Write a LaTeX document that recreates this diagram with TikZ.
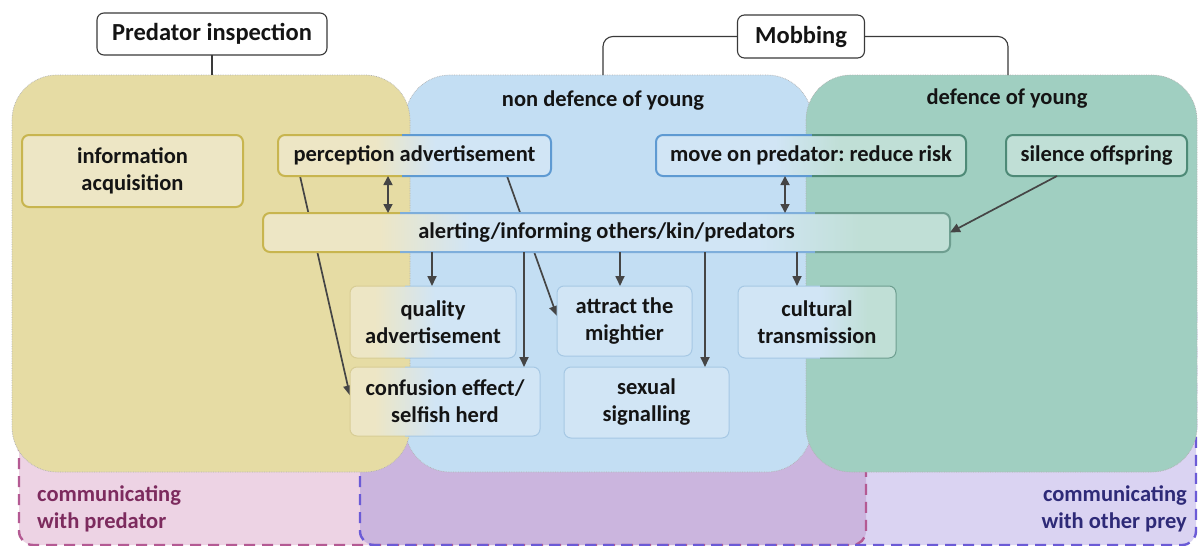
\documentclass[tikz,border=0pt]{standalone}
\usepackage{fontspec}
\setmainfont{Carlito}
\usetikzlibrary{arrows.meta}
\frenchspacing
\definecolor{yreg}{HTML}{E6DCA4}
\definecolor{breg}{HTML}{C3DEF3}
\definecolor{greg}{HTML}{A0CFC1}
\definecolor{preg}{HTML}{EDD3E4}
\definecolor{vreg}{HTML}{DAD3F2}
\definecolor{oreg}{HTML}{CBB5DE}
\definecolor{pdash}{HTML}{B45A93}
\definecolor{vdash}{HTML}{6B5BD6}
\definecolor{cream}{HTML}{EDE6C5}
\definecolor{gold}{HTML}{C8B54F}
\definecolor{lgold}{HTML}{D8CD95}
\definecolor{lblue}{HTML}{D1E5F5}
\definecolor{bblue}{HTML}{5E9AD2}
\definecolor{llblue}{HTML}{A6C8E4}
\definecolor{lgreen}{HTML}{C0DFD6}
\definecolor{dgreen}{HTML}{4E8A77}
\definecolor{mgreen}{HTML}{6E9E90}
\definecolor{txt}{HTML}{141414}
\definecolor{arrc}{HTML}{454545}
\definecolor{titleb}{HTML}{3A3A3A}
\definecolor{predtxt}{HTML}{7D2B5E}
\definecolor{preytxt}{HTML}{2E2A78}
\pgfdeclarehorizontalshading{shPerc}{100bp}{color(0bp)=(cream); color(42.8bp)=(cream); color(53.8bp)=(lblue); color(100bp)=(lblue)}
\pgfdeclarehorizontalshading{shQual}{100bp}{color(0bp)=(cream); color(32.5bp)=(cream); color(50.6bp)=(lblue); color(100bp)=(lblue)}
\pgfdeclarehorizontalshading{shConf}{100bp}{color(0bp)=(cream); color(31.6bp)=(cream); color(47.4bp)=(lblue); color(100bp)=(lblue)}
\pgfdeclarehorizontalshading{shMove}{100bp}{color(0bp)=(lblue); color(44.2bp)=(lblue); color(54.7bp)=(lgreen); color(100bp)=(lgreen)}
\pgfdeclarehorizontalshading{shCult}{100bp}{color(0bp)=(lblue); color(51bp)=(lblue); color(66bp)=(lgreen); color(100bp)=(lgreen)}
\pgfdeclarehorizontalshading{shAlert}{100bp}{color(0bp)=(cream); color(33.5bp)=(cream); color(40bp)=(lblue); color(61bp)=(lblue); color(68.5bp)=(lgreen); color(100bp)=(lgreen)}
\newcommand\bxfont{\fontsize{22.5}{27}\selectfont\bfseries}
\newcommand\ttlfont{\fontsize{24.5}{29}\selectfont\bfseries}
\newcommand\partb[5]{\begin{scope}\clip (#2,0) rectangle (#3,546);\draw[draw=#4, line width=#5, rounded corners=7pt] (#1.north west) rectangle (#1.south east);\end{scope}}
\pgfdeclarelayer{regions}
\pgfdeclarelayer{under}
\pgfsetlayers{regions,under,main}
\begin{document}
\begin{tikzpicture}[x=1pt,y=-1pt,
  region/.style={draw=gray!60, densely dotted, line width=0.7pt, rounded corners=45pt},
  dashreg/.style={dash pattern=on 11pt off 7pt, line width=2.4pt, rounded corners=14pt},
  nbox/.style={rectangle, rounded corners=7pt, align=center, font=\bxfont, text=txt, outer sep=0pt, inner sep=0pt},
  titlebox/.style={nbox, fill=white, draw=titleb, line width=1.1pt, font=\ttlfont},
  ybox/.style={nbox, fill=cream, draw=gold, line width=2pt},
  gbox/.style={nbox, fill=lgreen, draw=dgreen, line width=2pt},
  lbbox/.style={nbox, fill=lblue, draw=llblue, line width=1pt},
  shbox/.style={nbox, shade, shading=#1},
  arr/.style={draw=arrc, line width=1.7pt, -{Triangle[length=10pt,width=9pt]}},
  dbl/.style={draw=arrc, line width=1.7pt, {Triangle[length=9pt,width=9pt]}-{Triangle[length=9pt,width=9pt]}},
  bracket/.style={draw=titleb, line width=1.1pt, rounded corners=10pt}]
\useasboundingbox (0,0) rectangle (1200,546);
\begin{pgfonlayer}{regions}
\fill[white] (0,0) rectangle (1200,546);
\fill[preg, rounded corners=14pt] (19,300) rectangle (866,545);
\fill[vreg, rounded corners=14pt] (360,300) rectangle (1196,545);
\fill[oreg, rounded corners=14pt] (360,300) rectangle (866,545);
\draw[dashreg, draw=pdash] (19,300) rectangle (866,545);
\draw[dashreg, draw=vdash] (360,300) rectangle (1196,545);
\path[region, fill=breg] (405,75) rectangle (812,472);
\path[region, fill=yreg] (12,75) rectangle (410,472);
\path[region, fill=greg] (806,75) rectangle (1197,472);
\end{pgfonlayer}
% titles
\node[titlebox, minimum width=230pt, minimum height=42pt] (pi) at (212,34) {Predator inspection};
\node[titlebox, minimum width=127pt, minimum height=43pt] (mob) at (801,36.5) {Mobbing};
\coordinate (piend) at (212,75);
\coordinate (mobL) at (603,75);
\coordinate (mobR) at (1008,75);
\draw[bracket] (pi.south) -- (piend);
\draw[bracket] (mob.west) -| (mobL);
\draw[bracket] (mob.east) -| (mobR);
% region labels
\node[font=\bxfont, text=txt] (ndy) at (603,101) {non defence of young};
\node[font=\bxfont, text=txt] (dy) at (1007,99) {defence of young};
\node[font=\bxfont, text=predtxt, align=left, anchor=west, inner sep=0pt] (cwp) at (37,509) {communicating\\with predator};
\node[font=\bxfont, text=preytxt, align=right, anchor=east, inner sep=0pt] (cwo) at (1187,509) {communicating\\with other prey};
% top row
\node[ybox, minimum width=221pt, minimum height=72pt] (info) at (132.5,171) {information\\acquisition};
\node[shbox=shPerc, minimum width=273pt, minimum height=41pt] (perc) at (414.5,155.5) {perception advertisement};
\node[shbox=shMove, minimum width=310pt, minimum height=41pt] (move) at (811,155.5) {move on predator: reduce risk};
\node[gbox, minimum width=181pt, minimum height=41pt] (sil) at (1096.5,155.5) {silence offspring};
\node[shbox=shAlert, minimum width=687pt, minimum height=39pt] (alert) at (606.5,232.5) {alerting/informing others/kin/predators};
% lower boxes
\node[shbox=shQual, minimum width=166pt, minimum height=72pt] (qual) at (433,322) {quality\\advertisement};
\node[lbbox, minimum width=135pt, minimum height=70pt] (attr) at (624.5,321) {attract the\\mightier};
\node[shbox=shCult, minimum width=158pt, minimum height=72pt] (cult) at (817,322) {cultural\\transmission};
\node[shbox=shConf, minimum width=190pt, minimum height=69pt] (conf) at (445,401.5) {confusion effect/\\selfish herd};
\node[lbbox, minimum width=165pt, minimum height=71pt] (sex) at (646.5,402.5) {sexual\\signalling};
% split borders
\partb{perc}{0}{402}{gold}{2pt}
\partb{perc}{402}{1200}{bblue}{2pt}
\partb{move}{0}{812}{bblue}{2pt}
\partb{move}{812}{1200}{dgreen}{2pt}
\partb{alert}{0}{400}{gold}{2pt}
\partb{alert}{400}{815}{bblue!80!white}{2pt}
\partb{alert}{815}{1200}{mgreen}{2pt}
\partb{qual}{0}{405}{lgold}{1pt}
\partb{qual}{405}{1200}{llblue}{1pt}
\partb{conf}{0}{405}{lgold}{1pt}
\partb{conf}{405}{1200}{llblue}{1pt}
\partb{cult}{0}{820}{llblue}{1pt}
\partb{cult}{820}{1200}{mgreen}{1pt}
% connectors
\coordinate (xa) at (388,0);
\coordinate (xb) at (785,0);
\coordinate (xq) at (432,0);
\coordinate (xat) at (620,0);
\coordinate (xc) at (797,0);
\coordinate (xcf) at (524,0);
\coordinate (xs) at (705,0);
\coordinate (xp1) at (300,0);
\coordinate (xp2) at (507,0);
\coordinate (xsil) at (1057,0);
\draw[dbl] (perc.south -| xa) -- (alert.north -| xa);
\draw[dbl] (move.south -| xb) -- (alert.north -| xb);
\draw[arr] (sil.south -| xsil) -- (alert.east);
\draw[arr] (alert.south -| xq) -- (qual.north -| xq);
\draw[arr] (alert.south -| xat) -- (attr.north -| xat);
\draw[arr] (alert.south -| xc) -- (cult.north -| xc);
\draw[arr] (alert.south -| xcf) -- (conf.north -| xcf);
\draw[arr] (alert.south -| xs) -- (sex.north -| xs);
\begin{pgfonlayer}{under}
\draw[arr] (perc.south -| xp1) -- ([yshift=6pt]conf.west);
\draw[arr] (perc.south -| xp2) -- ([yshift=5pt]attr.west);
\end{pgfonlayer}
\end{tikzpicture}
\end{document}
